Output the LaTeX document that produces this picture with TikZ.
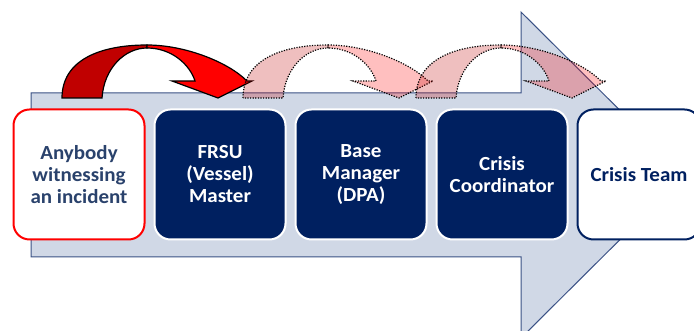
\documentclass[tikz,border=0pt]{standalone}
\usepackage{fontspec}
\setmainfont{Carlito}[FakeStretch=1.05]
\usepackage{tikz}
\usetikzlibrary{positioning}
\definecolor{flowfill}{HTML}{D0D8E6}
\definecolor{flowline}{HTML}{3A5185}
\definecolor{navy}{HTML}{002060}
\definecolor{slate}{HTML}{2A426C}
\definecolor{deepred}{HTML}{C00000}
\tikzstyle{role}=[rounded corners=16pt, minimum width=131pt, minimum height=130pt, line width=2pt, align=center, font=\bfseries\fontsize{20}{22}\selectfont]
\tikzstyle{officer}=[role, fill=navy, draw=white, text=white]
\tikzstyle{redtail}=[draw=black, line width=1.2pt, fill=deepred]
\tikzstyle{redhead}=[redtail, fill=red]
\tikzstyle{pinktail}=[draw=black, line width=1.2pt, dash pattern=on 1.2pt off 1.4pt, fill=deepred, fill opacity=0.25]
\tikzstyle{pinkhead}=[pinktail, fill=red]

\begin{document}
\begin{tikzpicture}[x=1pt, y=1pt]
\clip (0,0) rectangle (694,331);
% big process arrow behind everything
\draw[fill=flowfill, draw=flowline, line width=1pt] (31,238) -- (521,238) -- (521,319) -- (685,156) -- (521,-7) -- (521,74) -- (31,74) -- cycle;
% the chain of roles
\node[role, fill=white, draw=red, text=slate] (witness) at (79,156.5) {Anybody\\witnessing\\an incident};
\node[officer, right=8pt of witness] (master) {FRSU\\(Vessel)\\Master};
\node[officer, right=8pt of master] (dpa) {Base\\Manager\\(DPA)};
\node[officer, right=8pt of dpa] (coordinator) {Crisis\\Coordinator};
\node[role, fill=white, draw=navy, text=navy, minimum width=123pt, right=8pt of coordinator] (team) {Crisis Team};
% curved hand-over arrows: red one, then the two pink ones
\foreach \d/\tail/\head in {0/redtail/redhead, 181/pinktail/pinkhead, 354/pinktail/pinkhead}
{
\path[\tail, xshift=\d pt] (62,233) .. controls (62,271) and (100,286) .. (147,286) -- (147,283) .. controls (125,283) and (104,263) .. (102,233) -- cycle;
\path[\head, xshift=\d pt] (147,286) .. controls (185,286) and (228,269) .. (247,250) -- (252,250) -- (218,233) -- (172,250) -- (195,250) .. controls (190,266) and (172,283) .. (147,283) -- cycle;
}
\end{tikzpicture}
\end{document}
